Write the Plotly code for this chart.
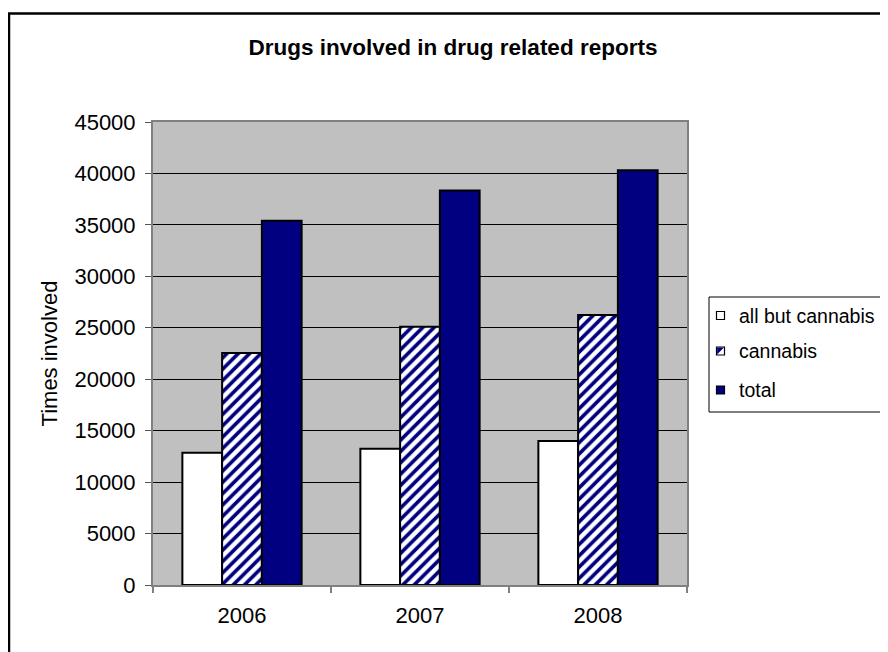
import plotly.graph_objects as go

years = ["2006", "2007", "2008"]
all_but_cannabis = [12850, 13250, 14000]
cannabis = [22550, 25100, 26250]
total = [35400, 38350, 40300]
y_ticks = [0, 5000, 10000, 15000, 20000, 25000, 30000, 35000, 40000, 45000]
legend_names = ["all but cannabis", "cannabis", "total"]

FONT = "Liberation Sans, Arial, sans-serif"
NAVY = "#000080"

# figure geometry (page has an 8px body margin)
W, H = 880, 644
ML, MT = 145, 114
PW, PH = 534, 463
MR = W - ML - PW
MB = H - MT - PH


def px(xp):
    return (xp - 8 - ML) / PW


def py(yp):
    return (MT + PH - (yp - 8)) / PH


fig = go.Figure()
fig.add_trace(go.Bar(
    x=years, y=all_but_cannabis, name=legend_names[0],
    marker=dict(color="white", line=dict(color="black", width=2)),
))
fig.add_trace(go.Bar(
    x=years, y=cannabis, name=legend_names[1],
    marker=dict(color="white", line=dict(color="black", width=2),
                pattern=dict(shape="/", fgcolor=NAVY, bgcolor="white", fgopacity=1,
                             size=8, solidity=0.45, fillmode="replace")),
))
fig.add_trace(go.Bar(
    x=years, y=total, name=legend_names[2],
    marker=dict(color=NAVY, line=dict(color="black", width=2)),
))

fig.update_layout(
    width=W, height=H, autosize=False,
    margin=dict(l=ML, r=MR, t=MT, b=MB, autoexpand=False),
    paper_bgcolor="white", plot_bgcolor="#C0C0C0",
    barmode="group", bargap=0.33, bargroupgap=0,
    font=dict(family=FONT, color="black", size=22),
    title=dict(text="<b>Drugs involved in drug related reports</b>",
               font=dict(family=FONT, size=22.5, color="black"),
               x=(453 - 8) / W, xref="container", xanchor="center",
               y=1 - (47.5 - 8) / H, yref="container", yanchor="middle"),
    showlegend=False,
)

fig.update_xaxes(
    type="category", showgrid=False,
    showline=True, linecolor="#808080", linewidth=2, mirror=True,
    ticks="outside", tickson="boundaries", ticklen=6, tickcolor="#808080", tickwidth=2,
    tickfont=dict(family=FONT, size=22, color="black"),
    ticklabelstandoff=10,
)
fig.update_yaxes(
    range=[0, 45000], tickvals=y_ticks, ticktext=[str(v) for v in y_ticks],
    showgrid=True, gridcolor="black", gridwidth=1, zeroline=False,
    showline=True, linecolor="#808080", linewidth=2, mirror=True,
    ticks="outside", ticklen=6, tickcolor="#555555", tickwidth=1,
    tickfont=dict(family=FONT, size=22, color="black"),
    ticklabelstandoff=5,
    title=dict(text="Times involved", font=dict(family=FONT, size=22, color="black"),
               standoff=11),
)

# outer chart border (runs past the right and bottom edges of the window)
fig.add_shape(type="rect", xref="paper", yref="paper",
              x0=px(9), x1=px(905), y0=py(670), y1=py(13.5),
              line=dict(color="black", width=2.5), fillcolor="rgba(0,0,0,0)", layer="above")

# legend box
fig.add_shape(type="rect", xref="paper", yref="paper",
              x0=px(709), x1=px(905), y0=py(412), y1=py(297),
              line=dict(color="black", width=1), fillcolor="white", layer="above")

leg_y = [315.5, 351, 390]
sym_x0, sym_x1 = 716.5, 724.5
for name, yc in zip(legend_names, leg_y):
    y0, y1 = py(yc + 4), py(yc - 4)
    if name == "total":
        fill = NAVY
    else:
        fill = "white"
    fig.add_shape(type="rect", xref="paper", yref="paper",
                  x0=px(sym_x0), x1=px(sym_x1), y0=y0, y1=y1,
                  line=dict(color="black", width=1.2), fillcolor=fill, layer="above")
    if name == "cannabis":
        fig.add_shape(type="path", xref="paper", yref="paper",
                      path=f"M {px(sym_x0 + 0.6)},{py(yc + 3.4)} L {px(sym_x1 - 0.6)},{py(yc - 3.4)} "
                           f"L {px(sym_x0 + 0.6)},{py(yc - 3.4)} Z",
                      line=dict(width=0), fillcolor=NAVY, layer="above")
    fig.add_annotation(text=name, xref="paper", yref="paper",
                       x=px(737), y=py(yc), xanchor="left", yanchor="middle",
                       showarrow=False, font=dict(family=FONT, size=19.5, color="black"))

fig.write_html("out.html")
